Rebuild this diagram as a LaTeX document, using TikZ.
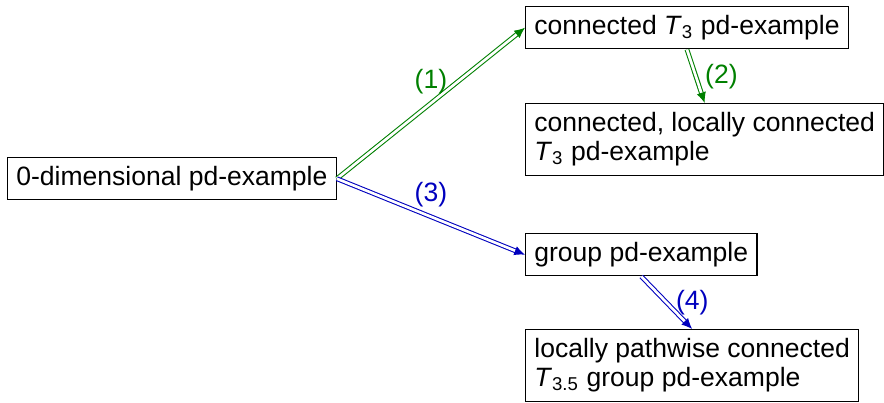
\documentclass[tikz,border=0pt]{standalone}
\usepackage{fontspec}
\setmainfont{Liberation Sans}
\usetikzlibrary{positioning,arrows.meta}
\definecolor{impgreen}{RGB}{0,128,0}
\definecolor{impblue}{RGB}{0,0,190}

\begin{document}
\begin{tikzpicture}[x=0.377pt,y=-0.377pt,font=\fontsize{10}{11}\selectfont]
\tikzstyle{ex node}=[draw,anchor=north west,align=left,inner sep=3.33pt]
\tikzstyle{imp}=[double,double distance=1pt,-{Latex[length=4pt,width=3.6pt]}]
\useasboundingbox (0,0) rectangle (884,403);
\clip (0,0) rectangle (884,403);
\node(zerodim)[ex node] at (7,157){0-dimensional pd-example};
\node(conn)[ex node] at (525,6){connected \textit{T}\textsubscript{3} pd-example};
\node(locconn)[ex node] at (525,103){connected, locally connected\\\textit{T}\textsubscript{3} pd-example};
\node(group)[ex node] at (525,233){group pd-example};
\node(pathgroup)[ex node] at (525,329){locally pathwise connected\\\textit{T}\textsubscript{3.5} group pd-example};
% implications
\draw[imp,impgreen] (zerodim.east) -- (conn.west) node[midway,above]{(1)};
\draw[imp,impgreen] (conn.south) -- (locconn.north) node[midway,right]{(2)};
\draw[imp,impblue] (zerodim.east) -- (group.west) node[midway,above]{(3)};
\draw[imp,impblue] (group.south) -- (pathgroup.north) node[midway,right]{(4)};
\end{tikzpicture}
\end{document}
